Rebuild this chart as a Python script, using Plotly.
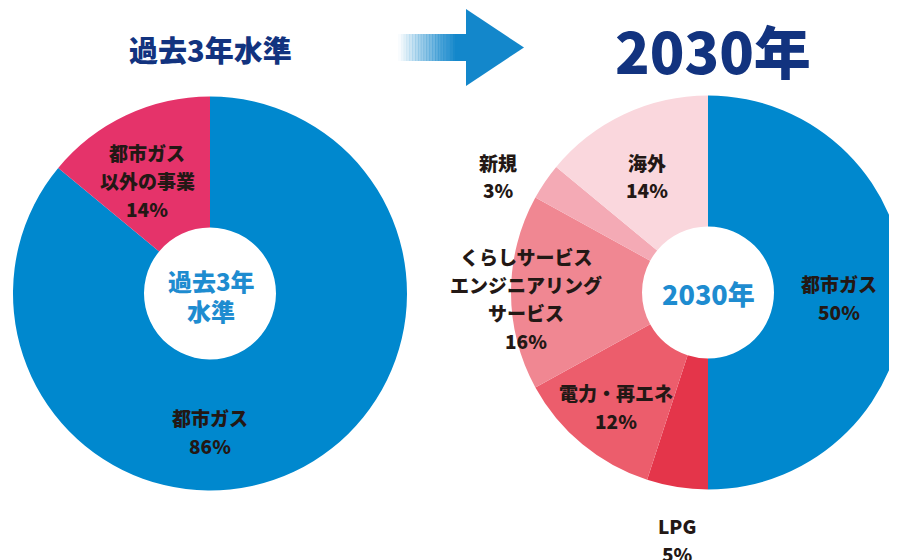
import plotly.graph_objects as go

W, H = 897, 560
OFF = 8  # page body margin in the rendered page

# ---- data ----
left_labels = ["都市ガス", "都市ガス<br>以外の事業"]
left_values = [86, 14]
left_colors = ["#0088CE", "#E5336A"]

right_labels = ["都市ガス", "LPG", "電力・再エネ", "くらしサービス<br>エンジニアリング<br>サービス", "新規", "海外"]
right_values = [50, 5, 12, 16, 3, 14]
right_colors = ["#0088CE", "#E4354A", "#EC5D6C", "#F08792", "#F4AAB5", "#FAD7DD"]

left_title = "過去3年水準"
right_title = "2030年"
left_center = ["過去3年", "水準"]
right_center = "2030年"

# label centre positions (screen pixels) — layout only
left_label_pos = [(210, 431), (147, 180)]
right_label_pos = [(839, 297), (677, 539), (616, 406), (526, 298), (498, 176), (647, 176)]

FONT = "Noto Sans CJK JP"
NAVY = "#12337F"
LBLUE = "#1E8CD0"
TXT = "#231815"
LINE = 28


def px(x):
    return (x - OFF) / W


def py(y):
    return 1 - (y - OFF) / H


fig = go.Figure()

fig.add_trace(go.Pie(
    labels=left_labels, values=left_values, sort=False, direction="clockwise", rotation=0,
    hole=0.335, marker=dict(colors=left_colors, line=dict(width=0)), textinfo="none",
    hoverinfo="label+percent", showlegend=False,
    domain=dict(x=[px(13), px(407)], y=[py(490.5), py(96.5)]),
))
fig.add_trace(go.Pie(
    labels=right_labels, values=right_values, sort=False, direction="clockwise", rotation=0,
    hole=0.335, marker=dict(colors=right_colors, line=dict(width=0)), textinfo="none",
    hoverinfo="label+percent", showlegend=False,
    domain=dict(x=[px(511), 1.0], y=[py(489.5), py(95.5)]),
))

ann = []


def add_label(lab, val, x, y):
    lines = lab.split("<br>") + [f"{val}%"]
    n = len(lines)
    for i, t in enumerate(lines):
        yy = y + (i - (n - 1) / 2) * LINE
        ann.append(dict(x=px(x), y=py(yy), xref="paper", yref="paper", showarrow=False,
                        text=t, font=dict(family=FONT, size=19, color=TXT, weight=900),
                        xanchor="center", yanchor="middle", align="center"))


for lab, val, (x, y) in zip(left_labels, left_values, left_label_pos):
    add_label(lab, val, x, y)
for lab, val, (x, y) in zip(right_labels, right_values, right_label_pos):
    add_label(lab, val, x, y)

# titles
ann.append(dict(x=px(210), y=py(49), xref="paper", yref="paper", showarrow=False,
                text=left_title, font=dict(family=FONT, size=29, color=NAVY, weight=900),
                xanchor="center", yanchor="middle"))
ann.append(dict(x=px(713), y=py(49), xref="paper", yref="paper", showarrow=False,
                text=right_title, font=dict(family=FONT, size=57, color=NAVY, weight=900),
                xanchor="center", yanchor="middle"))
# centre texts
for i, t in enumerate(left_center):
    ann.append(dict(x=px(211), y=py(280 + 30 * i), xref="paper", yref="paper", showarrow=False,
                    text=t, font=dict(family=FONT, size=24, color=LBLUE, weight=900),
                    xanchor="center", yanchor="middle"))
ann.append(dict(x=px(708), y=py(293), xref="paper", yref="paper", showarrow=False,
                text=right_center, font=dict(family=FONT, size=27, color=LBLUE, weight=900),
                xanchor="center", yanchor="middle"))

# arrow: gradient shaft + triangle head
shapes = []
ARW = "19,135,203"
x0, x1, xs = 398, 467, 455
steps = 20
for i in range(steps):
    a = x0 + (xs - x0) * i / steps
    b = x0 + (xs - x0) * (i + 1) / steps
    op = (i + 0.5) / steps
    shapes.append(dict(type="rect", xref="paper", yref="paper", x0=px(a), x1=px(b) + 0.0005,
                       y0=py(61), y1=py(34), fillcolor=f"rgba({ARW},{op:.3f})", line=dict(width=0), layer="above"))
shapes.append(dict(type="rect", xref="paper", yref="paper", x0=px(xs), x1=px(x1),
                   y0=py(61), y1=py(34), fillcolor=f"rgb({ARW})", line=dict(width=0), layer="above"))
path = f"M {px(466)},{py(9)} L {px(524)},{py(47.5)} L {px(466)},{py(86)} Z"
shapes.append(dict(type="path", xref="paper", yref="paper", path=path,
                   fillcolor=f"rgb({ARW})", line=dict(width=0), layer="above"))

fig.update_layout(
    width=W, height=H, margin=dict(l=0, r=0, t=0, b=0),
    paper_bgcolor="white", plot_bgcolor="white",
    annotations=ann, shapes=shapes, showlegend=False,
)

fig.write_html("out.html")
